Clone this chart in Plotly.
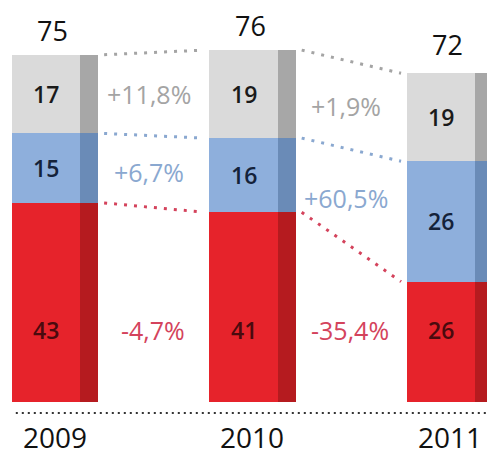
import plotly.graph_objects as go

years = ["2009", "2010", "2011"]
red_vals = [43, 41, 26]
blue_vals = [15, 16, 26]
gray_vals = [17, 19, 19]
totals = [75, 76, 72]
red_change = ["-4,7%", "-35,4%"]
blue_change = ["+6,7%", "+60,5%"]
gray_change = ["+11,8%", "+1,9%"]

FONT = "Open Sans"
FW = 0.345  # front face width (x units)
SW = 0.092  # side face width
xs = list(range(len(years)))

series = [
    ("red", red_vals, "#e6232b", "#b51b1f", "#4a0a0e", red_change, "#d4435c"),
    ("blue", blue_vals, "#8eafdc", "#6a8bb7", "#14223a", blue_change, "#8aa8d0"),
    ("gray", gray_vals, "#dadada", "#a7a7a7", "#1a1a1a", gray_change, "#a4a4a4"),
]

fig = go.Figure()
base = [0] * len(years)
bases = []
for name, vals, cf, cs, ct, ch, cc in series:
    bases.append(list(base))
    fig.add_trace(go.Bar(x=xs, y=vals, base=base, width=FW,
                         marker=dict(color=cf, line=dict(width=0)),
                         hoverinfo="skip", showlegend=False))
    fig.add_trace(go.Bar(x=[x + FW / 2 + SW / 2 for x in xs], y=vals, base=base, width=SW,
                         marker=dict(color=cs, line=dict(width=0)),
                         hoverinfo="skip", showlegend=False))
    base = [b + v for b, v in zip(base, vals)]

# dotted connectors between segment tops
for k, (name, vals, cf, cs, ct, ch, cc) in enumerate(series):
    tops = [b + v for b, v in zip(bases[k], vals)]
    for i in range(len(years) - 1):
        fig.add_trace(go.Scatter(
            x=[xs[i] + FW / 2 + SW + 0.03, xs[i + 1] - FW / 2 - 0.03],
            y=[tops[i], tops[i + 1]], mode="lines",
            line=dict(color=cc, width=3, dash="3px,7px"),
            hoverinfo="skip", showlegend=False))

# baseline
fig.add_trace(go.Scatter(x=[xs[0] - FW / 2 + 0.02, xs[-1] + 0.3], y=[-2.4, -2.4], mode="lines",
                         line=dict(color="#333333", width=2, dash="2px,4px"),
                         hoverinfo="skip", showlegend=False))

ann = []
for k, (name, vals, cf, cs, ct, ch, cc) in enumerate(series):
    for i, v in enumerate(vals):
        ymid = 15.5 if name == "red" else bases[k][i] + v / 2
        ann.append(dict(x=xs[i], y=ymid, text=str(v), showarrow=False,
                        font=dict(family=FONT, size=23, color=ct, weight=600)))
    for i in range(len(years) - 1):
        if name == "red":
            ym, xo = 15.5, 0.54
        else:
            ym = (bases[k][i] + vals[i] / 2 + bases[k][i + 1] + vals[i + 1] / 2) / 2
            xo = 0.52
        ann.append(dict(x=xs[i] + xo, y=ym, text=ch[i], showarrow=False,
                        font=dict(family=FONT, size=25, color=cc)))

for i, t in enumerate(totals):
    ann.append(dict(x=xs[i] + 0.035, y=t, text=str(t), showarrow=False, yanchor="bottom",
                    yshift=4, font=dict(family=FONT, size=27, color="#111111", weight=500)))
    ann.append(dict(x=xs[i] + 0.045, y=-7.6, text=years[i], showarrow=False,
                    font=dict(family=FONT, size=28, color="#111111")))

fig.update_layout(
    width=487, height=449, margin=dict(l=0, r=0, t=0, b=0),
    paper_bgcolor="white", plot_bgcolor="white",
    barmode="overlay", bargap=0,
    xaxis=dict(range=[-0.192, 2.273], visible=False, fixedrange=True),
    yaxis=dict(range=[-11.88, 85.1], visible=False, fixedrange=True),
    annotations=ann,
)

fig.write_html("out.html")
